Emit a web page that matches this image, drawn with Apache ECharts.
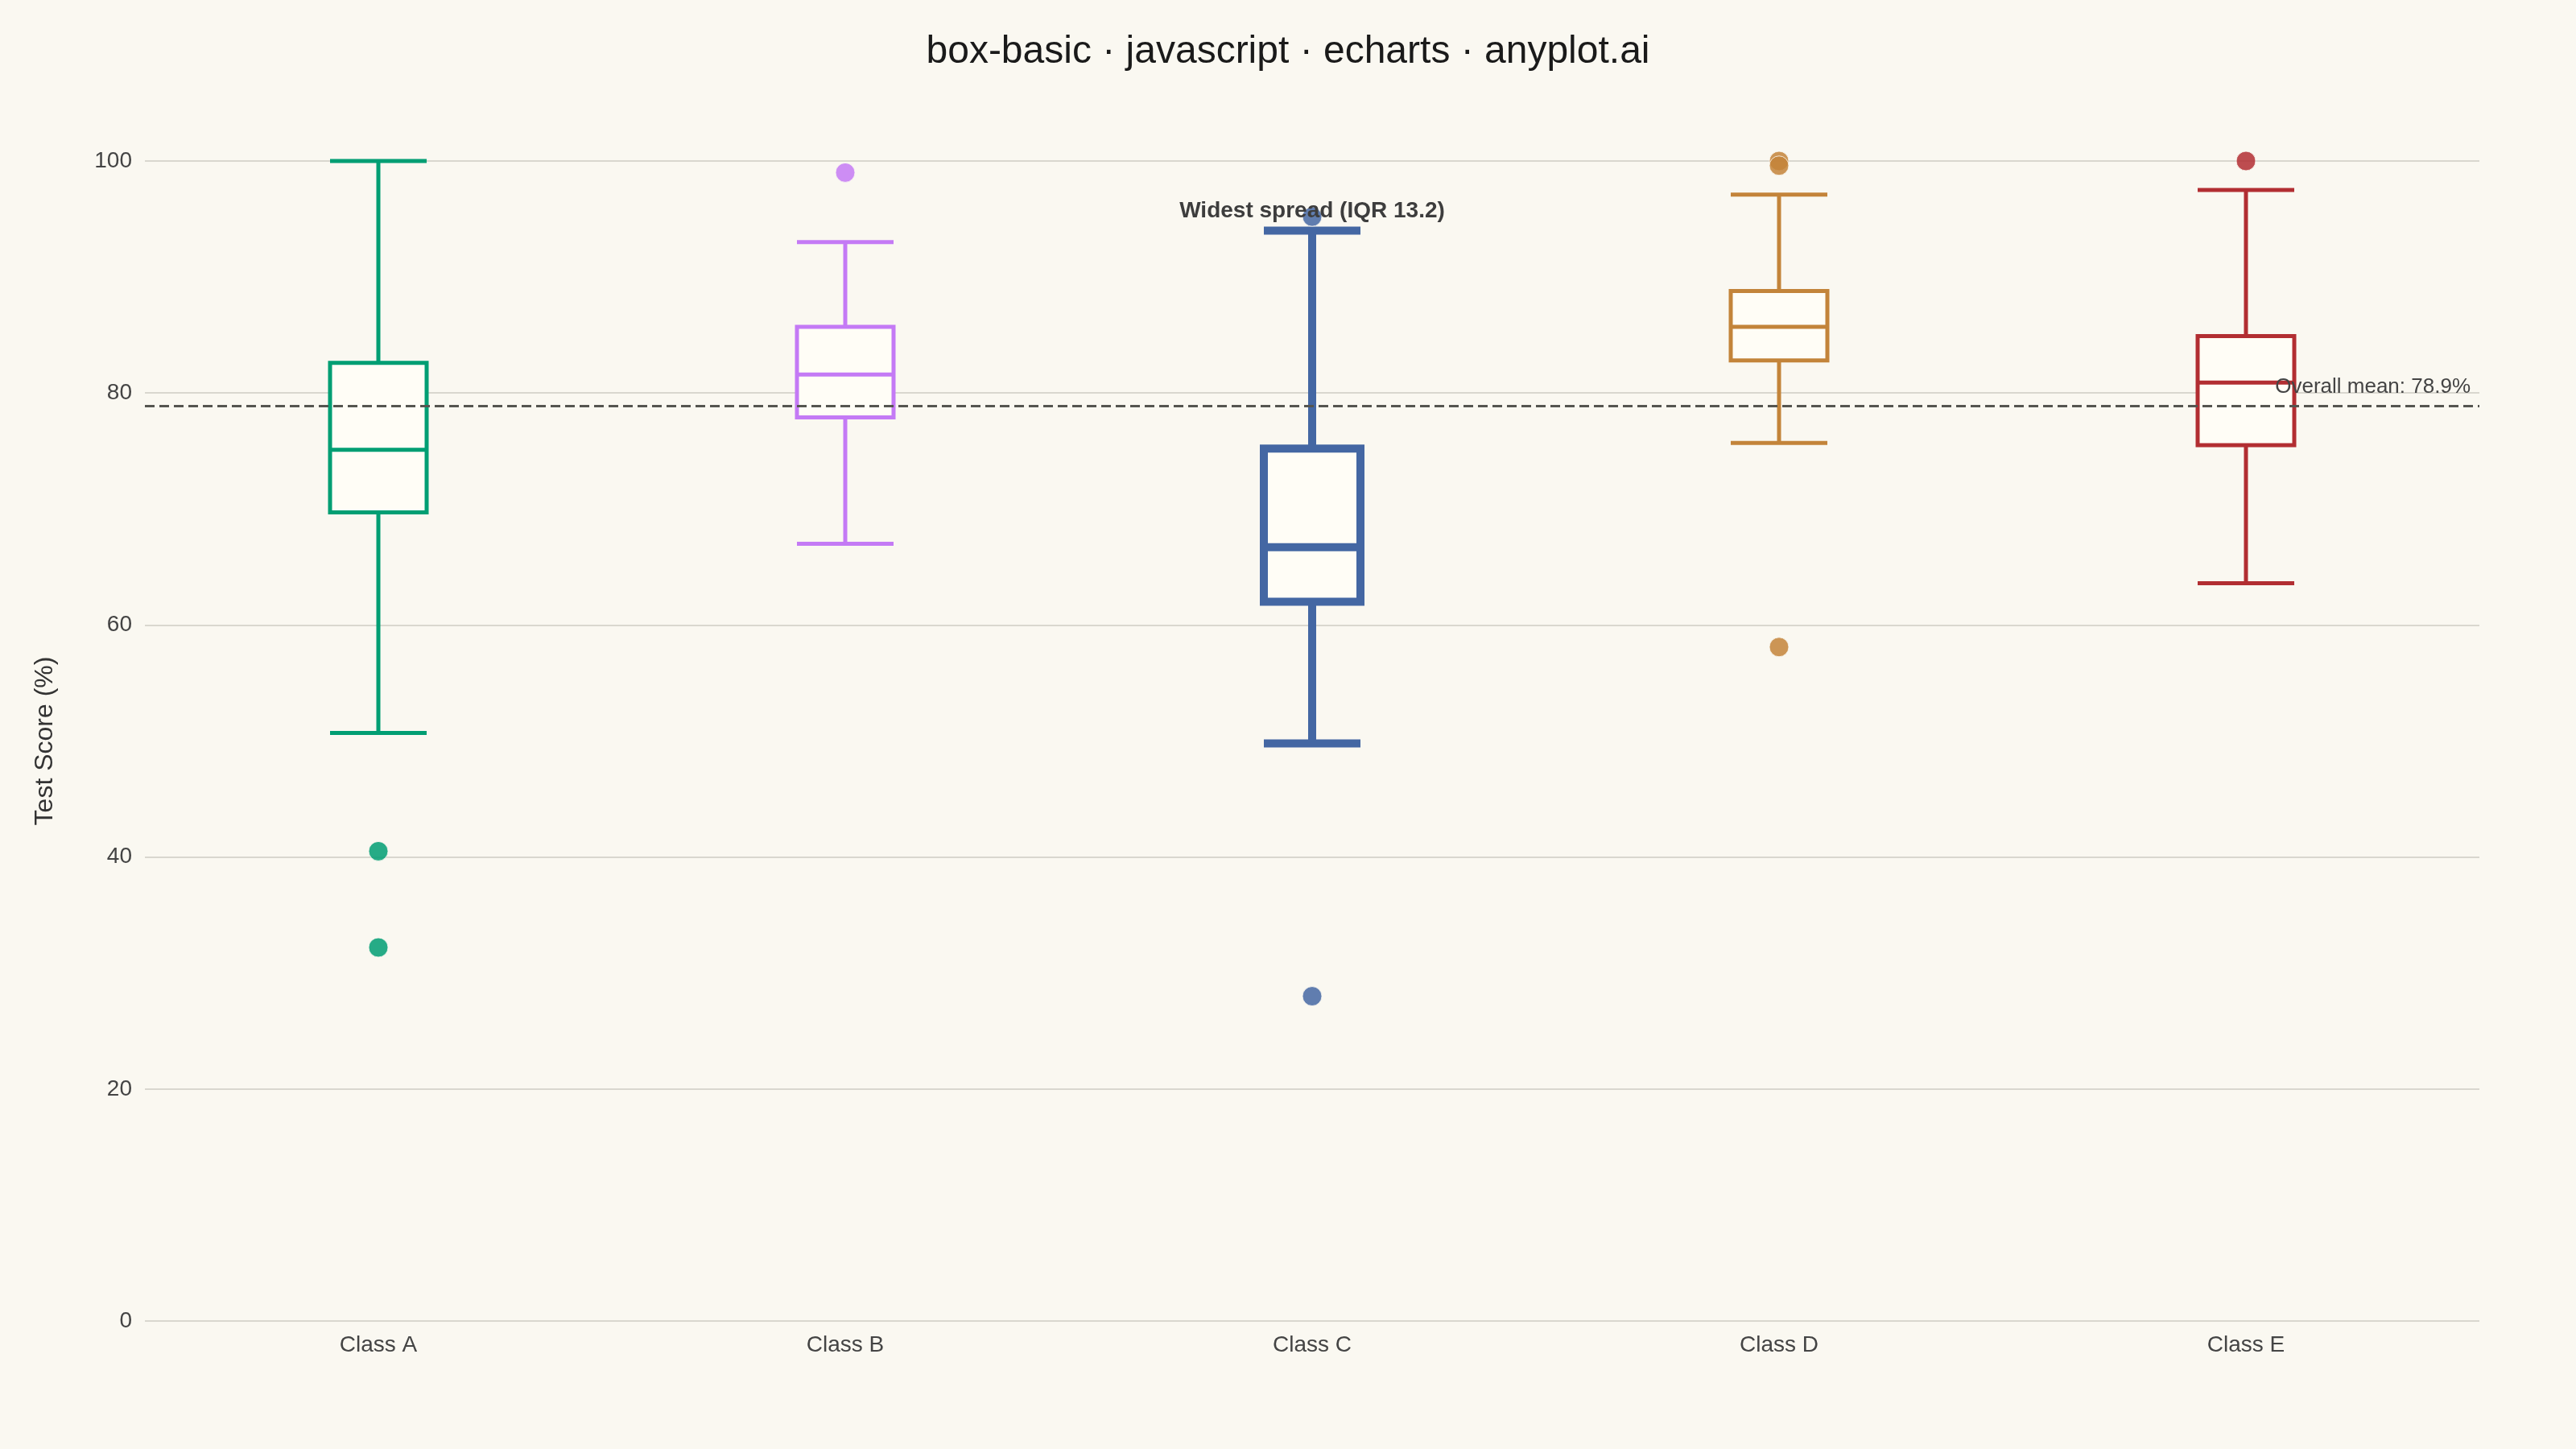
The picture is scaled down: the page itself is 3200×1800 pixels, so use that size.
<!DOCTYPE html>
<html>
<head>
<meta charset="utf-8">
<title>box-basic</title>
<script src="https://cdn.jsdelivr.net/npm/echarts@6/dist/echarts.min.js"></script>
<style>
  html, body { margin: 0; padding: 0; background: #FAF8F1; }
  #chart { width: 3200px; height: 1800px; }
</style>
</head>
<body>
<div id="chart"></div>
<script>
// values
const categories = ['Class A', 'Class B', 'Class C', 'Class D', 'Class E'];
const lowerWhisker = [50.7, 67.0, 49.8, 75.7, 63.6];
const q1 = [69.7, 77.9, 62.0, 82.8, 75.5];
const median = [75.1, 81.6, 66.7, 85.7, 80.9];
const q3 = [82.6, 85.7, 75.2, 88.8, 84.9];
const upperWhisker = [100.0, 93.0, 94.0, 97.1, 97.5];
const outliers = [
  [40.5, 32.2],
  [99.0],
  [95.2, 28.0],
  [100.0, 99.6, 58.1],
  [100.0]
];
const overallMean = 78.9;
const yTicks = [0, 20, 40, 60, 80, 100];

const palette = ['#009E73', '#C47AF5', '#4467A3', '#C3843A', '#B22E32'];
const highlightIndex = 2; // widest spread

const font = '"Liberation Sans", Arial, sans-serif';
const iqr = (q3[highlightIndex] - q1[highlightIndex]).toFixed(1);

const boxData = categories.map((c, i) => ({
  value: [lowerWhisker[i], q1[i], median[i], q3[i], upperWhisker[i]],
  itemStyle: {
    color: '#FFFDF6',
    borderColor: palette[i],
    borderWidth: i === highlightIndex ? 10 : 5
  }
}));

const outlierData = [];
outliers.forEach((vals, i) => {
  vals.forEach(v => {
    outlierData.push({ value: [i, v], itemStyle: { color: palette[i] } });
  });
});

const chart = echarts.init(document.getElementById('chart'), null, { renderer: 'canvas' });

chart.setOption({
  backgroundColor: '#FAF8F1',
  animation: false,
  textStyle: { fontFamily: font },
  title: {
    text: 'box-basic · javascript · echarts · anyplot.ai',
    left: 'center',
    top: 36,
    textStyle: { fontSize: 48, fontWeight: 'normal', color: '#1a1a1a', fontFamily: font }
  },
  grid: { left: 180, right: 120, top: 200, bottom: 159 },
  xAxis: {
    type: 'category',
    data: categories,
    axisLine: { show: false },
    axisTick: { show: false },
    splitLine: { show: false },
    axisLabel: { fontSize: 28, color: '#444', margin: 16, fontFamily: font }
  },
  yAxis: {
    type: 'value',
    min: yTicks[0],
    max: yTicks[yTicks.length - 1],
    interval: yTicks[1] - yTicks[0],
    name: 'Test Score (%)',
    nameLocation: 'middle',
    nameGap: 108,
    nameTextStyle: { fontSize: 32, color: '#333', fontFamily: font },
    axisLine: { show: false },
    axisTick: { show: false },
    axisLabel: { fontSize: 28, color: '#444', margin: 16, fontFamily: font },
    splitLine: { lineStyle: { color: '#D9D7CF', width: 2 } }
  },
  series: [
    {
      name: 'scores',
      type: 'boxplot',
      data: boxData,
      boxWidth: [120, 120],
      z: 2,
      emphasis: { disabled: true }
    },
    {
      name: 'outliers',
      type: 'scatter',
      data: outlierData,
      symbolSize: 24,
      z: 3,
      itemStyle: { opacity: 0.85, borderColor: '#FAF8F1', borderWidth: 1 },
      emphasis: { disabled: true },
      markLine: {
        silent: true,
        symbol: 'none',
        data: [{ yAxis: overallMean }],
        lineStyle: { type: [12, 6], width: 3, color: '#555550' },
        label: {
          formatter: 'Overall mean: ' + overallMean + '%',
          position: 'insideEndTop',
          distance: [11, 10],
          fontSize: 26,
          color: '#444',
          fontFamily: font
        }
      },
      markPoint: {
        silent: true,
        symbol: 'circle',
        symbolSize: 0,
        data: [{ coord: [highlightIndex, upperWhisker[highlightIndex]] }],
        label: {
          show: true,
          position: 'top',
          distance: 10,
          formatter: 'Widest spread (IQR ' + iqr + ')',
          fontSize: 28,
          fontWeight: 'bold',
          color: '#3d3d3d',
          fontFamily: font
        }
      }
    }
  ]
});
</script>
</body>
</html>
